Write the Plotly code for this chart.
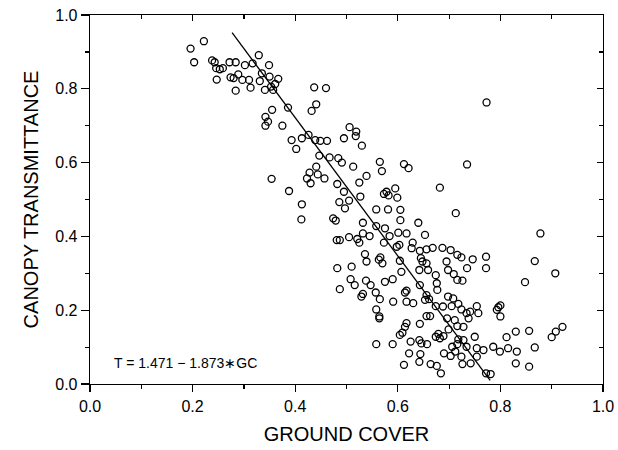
import plotly.graph_objects as go

# Ground cover (GC) and canopy transmittance (T)
gc = [
    0.196, 0.222, 0.203, 0.238, 0.243, 0.246, 0.253, 0.259, 0.247, 0.272,
    0.284, 0.274, 0.280, 0.289, 0.297, 0.284, 0.302, 0.313, 0.310, 0.317,
    0.329, 0.331, 0.335, 0.349, 0.341, 0.350, 0.353, 0.357, 0.361, 0.367,
    0.355, 0.342, 0.347, 0.342, 0.375, 0.386, 0.393, 0.402, 0.413, 0.426,
    0.439, 0.449, 0.462, 0.437, 0.460, 0.432, 0.441, 0.447, 0.467, 0.484,
    0.441, 0.428, 0.444, 0.423, 0.457, 0.430, 0.354, 0.388, 0.413, 0.482,
    0.486,
    0.773, 0.735, 0.682, 0.506, 0.519, 0.518, 0.495, 0.530, 0.491, 0.513,
    0.565, 0.569, 0.612, 0.621, 0.539, 0.525, 0.495, 0.527, 0.505, 0.578,
    0.573, 0.595, 0.582, 0.599, 0.558, 0.581, 0.605, 0.497,
    0.474, 0.479, 0.605, 0.640, 0.713, 0.878, 0.532, 0.558, 0.575, 0.532,
    0.545, 0.487, 0.505, 0.521, 0.525, 0.584, 0.601, 0.617, 0.653, 0.573,
    0.598, 0.603, 0.629, 0.627, 0.643, 0.656, 0.668, 0.687, 0.703, 0.716,
    0.724, 0.746, 0.772, 0.772, 0.735, 0.867, 0.907, 0.848, 0.536, 0.539,
    0.566, 0.570, 0.563, 0.482, 0.510, 0.604, 0.607, 0.645, 0.648, 0.656,
    0.642, 0.659, 0.695, 0.698, 0.674, 0.709, 0.726, 0.716, 0.508, 0.516,
    0.487, 0.538, 0.547, 0.575, 0.590, 0.557, 0.532, 0.529, 0.565, 0.617,
    0.614, 0.643, 0.676, 0.677, 0.656, 0.661, 0.653, 0.630, 0.591, 0.617,
    0.558, 0.564, 0.564, 0.674, 0.688, 0.705, 0.718, 0.708, 0.698, 0.724,
    0.734, 0.741, 0.754, 0.757, 0.793, 0.796, 0.800, 0.800, 0.663, 0.656,
    0.617, 0.614, 0.643, 0.696, 0.711, 0.716, 0.728, 0.738, 0.604, 0.609,
    0.558, 0.590, 0.625, 0.642, 0.646, 0.657, 0.674, 0.679, 0.682, 0.689,
    0.699, 0.718, 0.728, 0.750, 0.734, 0.754, 0.767, 0.786, 0.799, 0.815,
    0.832, 0.812, 0.830, 0.856, 0.867, 0.900, 0.908, 0.921, 0.830, 0.856,
    0.622, 0.644, 0.612, 0.642, 0.664, 0.676, 0.684, 0.690, 0.703, 0.712,
    0.724, 0.726, 0.742, 0.754, 0.772, 0.781, 0.716, 0.706,
    0.412, 0.481,
]
transmittance = [
    0.909, 0.929, 0.872, 0.877, 0.872, 0.856, 0.853, 0.856, 0.825, 0.872,
    0.872, 0.831, 0.829, 0.839, 0.824, 0.795, 0.864, 0.803, 0.824, 0.869,
    0.891, 0.821, 0.842, 0.864, 0.797, 0.833, 0.806, 0.797, 0.813, 0.827,
    0.743, 0.724, 0.711, 0.700, 0.700, 0.749, 0.661, 0.637, 0.666, 0.675,
    0.661, 0.659, 0.659, 0.804, 0.802, 0.740, 0.758, 0.619, 0.614, 0.612,
    0.589, 0.573, 0.568, 0.557, 0.557, 0.544, 0.556, 0.523, 0.487, 0.542,
    0.493,
    0.763, 0.595, 0.532, 0.696, 0.684, 0.672, 0.666, 0.646, 0.600, 0.589,
    0.602, 0.577, 0.596, 0.585, 0.564, 0.546, 0.521, 0.508, 0.497, 0.521,
    0.515, 0.530, 0.511, 0.505, 0.473, 0.473, 0.472, 0.476,
    0.449, 0.443, 0.444, 0.437, 0.463, 0.408, 0.437, 0.428, 0.422, 0.408,
    0.401, 0.390, 0.398, 0.393, 0.383, 0.401, 0.410, 0.408, 0.404, 0.383,
    0.372, 0.377, 0.383, 0.368, 0.361, 0.365, 0.369, 0.369, 0.363, 0.350,
    0.343, 0.338, 0.345, 0.314, 0.314, 0.333, 0.300, 0.276, 0.352, 0.332,
    0.343, 0.327, 0.337, 0.314, 0.318, 0.334, 0.304, 0.341, 0.332, 0.327,
    0.309, 0.309, 0.332, 0.309, 0.295, 0.298, 0.280, 0.282, 0.284, 0.268,
    0.257, 0.280, 0.268, 0.277, 0.284, 0.248, 0.244, 0.237, 0.230, 0.253,
    0.248, 0.268, 0.273, 0.255, 0.241, 0.230, 0.228, 0.219, 0.223, 0.223,
    0.202, 0.183, 0.178, 0.211, 0.210, 0.211, 0.217, 0.232, 0.237, 0.202,
    0.192, 0.196, 0.211, 0.192, 0.201, 0.208, 0.213, 0.183, 0.184, 0.184,
    0.165, 0.155, 0.163, 0.178, 0.173, 0.157, 0.155, 0.178, 0.133, 0.139,
    0.108, 0.108, 0.115, 0.119, 0.110, 0.108, 0.128, 0.136, 0.124, 0.130,
    0.148, 0.121, 0.119, 0.128, 0.101, 0.097, 0.092, 0.101, 0.088, 0.097,
    0.088, 0.127, 0.142, 0.144, 0.099, 0.127, 0.142, 0.155, 0.056, 0.047,
    0.083, 0.081, 0.052, 0.060, 0.054, 0.049, 0.029, 0.083, 0.076, 0.088,
    0.074, 0.054, 0.056, 0.074, 0.029, 0.027, 0.108, 0.101,
    0.446, 0.390,
]

# Regression line endpoints (GC range) and coefficients from the figure
fit_gc = [0.277, 0.78]
intercept, slope = 1.471, -1.873
fit_t = [intercept + slope * g for g in fit_gc]
equation_text = "T = 1.471 \u2212 1.873\u2217GC"

x_title = "GROUND COVER"
y_title = "CANOPY TRANSMITTANCE"

FONT = "Liberation Sans, Arial, sans-serif"

fig = go.Figure()
fig.add_trace(go.Scatter(
    x=gc, y=transmittance, mode="markers",
    marker=dict(symbol="circle-open", size=7, color="black", line=dict(width=1.3, color="black")),
    showlegend=False, hoverinfo="skip",
))
fig.add_trace(go.Scatter(
    x=fit_gc, y=fit_t, mode="lines",
    line=dict(color="black", width=1.3),
    showlegend=False, hoverinfo="skip",
))
# invisible trace to activate mirrored top/right axes with inward ticks
fig.add_trace(go.Scatter(x=[None], y=[None], xaxis="x2", yaxis="y2", showlegend=False))

axis_common = dict(
    range=[0, 1], showgrid=False, zeroline=False, showline=True,
    linecolor="black", linewidth=1.3,
    tickcolor="black", tickwidth=1.2, automargin=False,
)

fig.update_layout(
    width=618, height=450,
    margin=dict(l=90, r=15, t=15, b=66),
    plot_bgcolor="white", paper_bgcolor="white",
    font=dict(family=FONT, color="black"),
    xaxis=dict(
        **axis_common, dtick=0.2, tickformat=".1f", ticks="outside", ticklen=7,
        tickfont=dict(size=16), ticklabeloverflow="allow",
        minor=dict(dtick=0.1, ticks="outside", ticklen=4, tickcolor="black", tickwidth=1.2),
        title=dict(text=x_title, font=dict(size=20), standoff=13),
    ),
    yaxis=dict(
        **axis_common, dtick=0.2, tickformat=".1f", ticks="outside", ticklen=8,
        tickfont=dict(size=16), ticklabeloverflow="allow",
        minor=dict(dtick=0.1, ticks="outside", ticklen=4, tickcolor="black", tickwidth=1.2),
        title=dict(text=y_title, font=dict(size=20), standoff=11),
    ),
    xaxis2=dict(
        **axis_common, overlaying="x", side="top", dtick=0.2, ticks="inside", ticklen=6,
        showticklabels=False,
        minor=dict(dtick=0.1, ticks="inside", ticklen=4, tickcolor="black", tickwidth=1.2),
    ),
    yaxis2=dict(
        **axis_common, overlaying="y", side="right", dtick=0.2, ticks="inside", ticklen=6,
        showticklabels=False,
        minor=dict(dtick=0.1, ticks="inside", ticklen=4, tickcolor="black", tickwidth=1.2),
    ),
    annotations=[dict(
        x=0.042, y=0.057, xref="x", yref="y", text=equation_text,
        showarrow=False, xanchor="left", yanchor="middle",
        font=dict(size=14, family=FONT),
    )],
)

fig.write_html(
    "out.html",
    config={"displayModeBar": False, "staticPlot": True},
    post_script="document.body.style.margin='0';document.body.style.overflow='hidden';",
)
